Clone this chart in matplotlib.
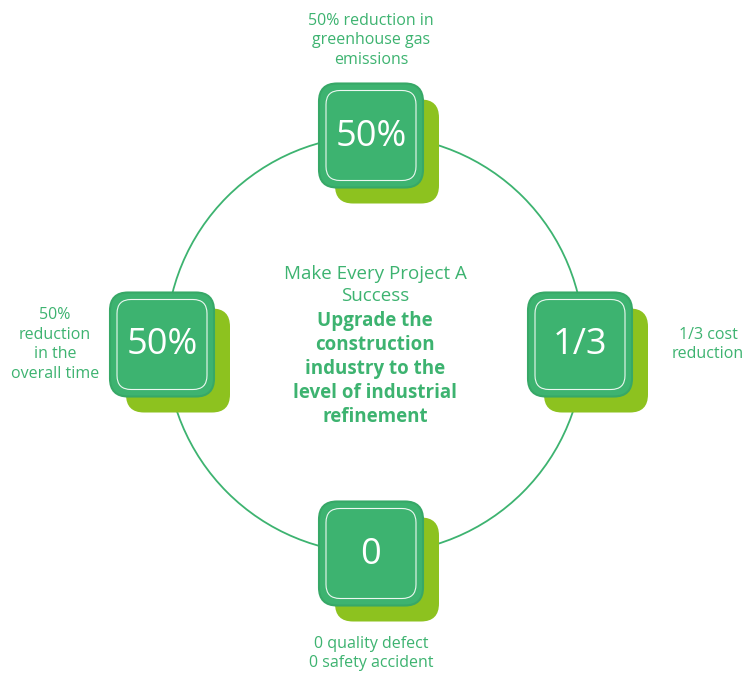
import numpy as np
import matplotlib.pyplot as plt
from matplotlib.patches import FancyBboxPatch, Circle

plt.rcParams['font.family'] = ['Open Sans', 'DejaVu Sans']

# data
values = ["50%", "1/3", "0", "50%"]
descriptions = [
    "50% reduction in\ngreenhouse gas\nemissions",
    "1/3 cost\nreduction",
    "0 quality defect\n0 safety accident",
    "50%\nreduction\nin the\noverall time",
]
angles = [90, 0, 270, 180]
title = "Make Every Project A\nSuccess"
subtitle = "Upgrade the\nconstruction\nindustry to the\nlevel of industrial\nrefinement"

GREEN = "#3db370"
GREEN_DARK = "#37a867"
LIME = "#8dc21f"

# layout (pixel units)
W, H = 747, 673
cx, cy, r = 375, 344.5, 209
box = 104
shadow = 16
label_off = [(0, -95), (128, 0), (0, 100), (-107, 0)]

fig = plt.figure(figsize=(W / 100, H / 100), dpi=100)
ax = fig.add_axes([0, 0, 1, 1])
ax.set_xlim(0, W)
ax.set_ylim(H, 0)
ax.set_aspect("equal")
ax.axis("off")

ax.add_patch(Circle((cx, cy), r, fill=False, ec=GREEN, lw=1.3, zorder=1))

for val, desc, ang, (lx, ly) in zip(values, descriptions, angles, label_off):
    a = np.radians(ang)
    bx = cx + r * np.cos(a) - 4
    by = cy - r * np.sin(a)
    x0, y0 = bx - box / 2, by - box / 2
    # lime shadow box
    ax.add_patch(FancyBboxPatch((x0 + shadow, y0 + shadow), box, box,
                                boxstyle="round,pad=0,rounding_size=18",
                                fc=LIME, ec="none", zorder=2))
    # main box
    ax.add_patch(FancyBboxPatch((x0, y0), box, box,
                                boxstyle="round,pad=0,rounding_size=18",
                                fc=GREEN, ec=GREEN_DARK, lw=1.5, zorder=3))
    ins = 7
    ax.add_patch(FancyBboxPatch((x0 + ins, y0 + ins), box - 2 * ins, box - 2 * ins,
                                boxstyle="round,pad=0,rounding_size=14",
                                fc="none", ec="white", lw=0.8, alpha=0.9, zorder=4))
    ax.text(bx, by + 1, val, color="white", fontsize=26, ha="center", va="center", zorder=5)
    ax.text(bx + lx, by + ly, desc, color=GREEN, fontsize=11.5, ha="center", va="center",
            linespacing=1.31, multialignment="center")

ax.text(cx, 285, title, color=GREEN, fontsize=13.5, ha="center", va="center",
        linespacing=1.28, multialignment="center")
ax.text(cx, 369, subtitle, color=GREEN, fontsize=13.5, fontweight="bold",
        ha="center", va="center", linespacing=1.28, multialignment="center")

fig.savefig("out.png", dpi=100)
